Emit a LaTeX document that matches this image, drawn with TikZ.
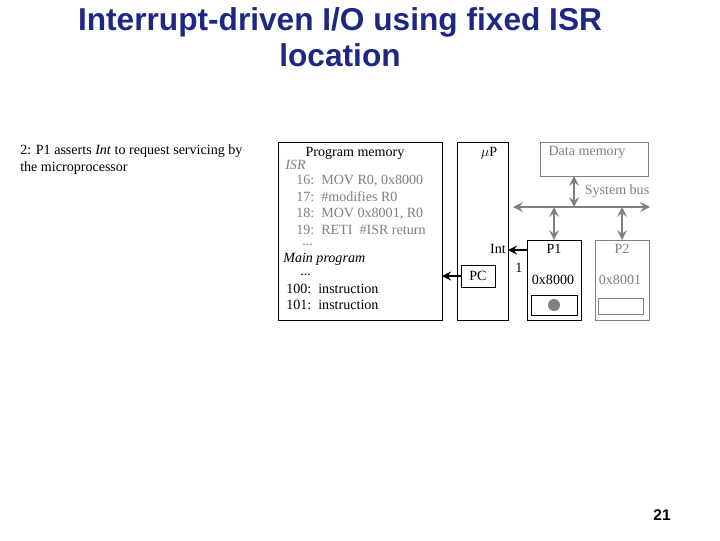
\documentclass[tikz,border=0pt]{standalone}
\usepackage{fontspec}
\setmainfont{Liberation Serif}
\newfontfamily\titlefont{Liberation Sans}
\usetikzlibrary{positioning}
\definecolor{navy}{RGB}{30,40,130}
\definecolor{dim}{RGB}{128,128,128}
\tikzset{
  box/.style = {draw, line width=0.6pt, inner sep=0pt},
  txt/.style = {font=\fontsize{10}{12}\selectfont, inner sep=0pt},
  busarrow/.style = {dim, line width=2pt, <->, >=stealth},
  sig/.style = {black, line width=1.8pt, ->, >=stealth}
}
\begin{document}
\begin{tikzpicture}[x=0.025cm, y=-0.025cm]
  \useasboundingbox (0,0) rectangle (720,540);

  % title
  \node[navy, font=\titlefont\bfseries\fontsize{22.5}{24}\selectfont] (title1) at (340,22) {Interrupt-driven I/O using fixed ISR};
  \node[navy, font=\titlefont\bfseries\fontsize{22.5}{24}\selectfont] (title2) at (340,55) {location};

  % step text
  \node[txt, anchor=west] (step1) at (20,151) {2: P1 asserts \textit{Int} to request servicing by};
  \node[txt, anchor=west] (step2) at (20,168) {the microprocessor};

  % boxes
  \draw[box] (278,142) rectangle (442,320);
  \coordinate (pmem) at (442,276);
  \draw[box] (457,142) rectangle (508,320);
  \coordinate (upint) at (508,250);
  \draw[box, dim] (540,142) rectangle (648,176);
  \draw[box] (527,240) rectangle (581,320);
  \draw[box, dim] (595,240) rectangle (649,320);
  \node[box, minimum width=34*0.025cm, minimum height=22*0.025cm] (pc) at (478,276) {};
  \node[txt] at (pc) {PC};
  \draw[box] (531,295) rectangle (577,315);
  \fill[dim] (554,305) circle[radius=6];
  \draw[box, dim] (598,298) rectangle (643,314);

  % program memory
  \node[txt] (pmtitle) at (355,153) {Program memory};
  \node[txt, dim, anchor=west] at (285,165) {\textit{ISR}};
  \node[txt, dim, anchor=west] at (296,181) {16:\ \ MOV R0, 0x8000};
  \node[txt, dim, anchor=west] at (296,197) {17:\ \ \#modifies R0};
  \node[txt, dim, anchor=west] at (296,214) {18:\ \ MOV 0x8001, R0};
  \node[txt, dim, anchor=west] at (296,230) {19:\ \ RETI \ \#ISR return};
  \node[txt, dim, anchor=west] at (302,245) {...};
  \node[txt, anchor=west] at (283,259) {\textit{Main program}};
  \node[txt, anchor=west] at (300,275) {...};
  \node[txt, anchor=west] at (286,289) {100:\ \ instruction};
  \node[txt, anchor=west] at (286,305) {101:\ \ instruction};

  % processor and peripherals
  \node[txt] (up) at (489,153) {$\mu$P};
  \node[txt, anchor=east] (int) at (506,249) {Int};
  \node[txt] (one) at (519,268) {1};
  \node[txt, dim] (dmem) at (587,152) {Data memory};
  \node[txt, dim] (bus) at (617,191) {System bus};
  \node[txt] (p1) at (554,249) {P1};
  \node[txt] (p1addr) at (553,280) {0x8000};
  \node[txt, dim] (p2) at (622,249) {P2};
  \node[txt, dim] (p2addr) at (620,280) {0x8001};

  % bus
  \coordinate (busl) at (513,207);
  \coordinate (busr) at (650,207);
  \draw[busarrow] (busl) -- (busr);
  \draw[busarrow] (574,176) -- (574,207);
  \draw[busarrow] (554,207) -- (554,240);
  \draw[busarrow] (622,207) -- (622,240);

  % signals
  \draw[sig] (pc.west) -- (pmem);
  \draw[sig] (527,250) -- (upint);

  \node[font=\titlefont\bfseries\fontsize{11}{13}\selectfont] (page) at (662,515) {21};
\end{tikzpicture}
\end{document}
